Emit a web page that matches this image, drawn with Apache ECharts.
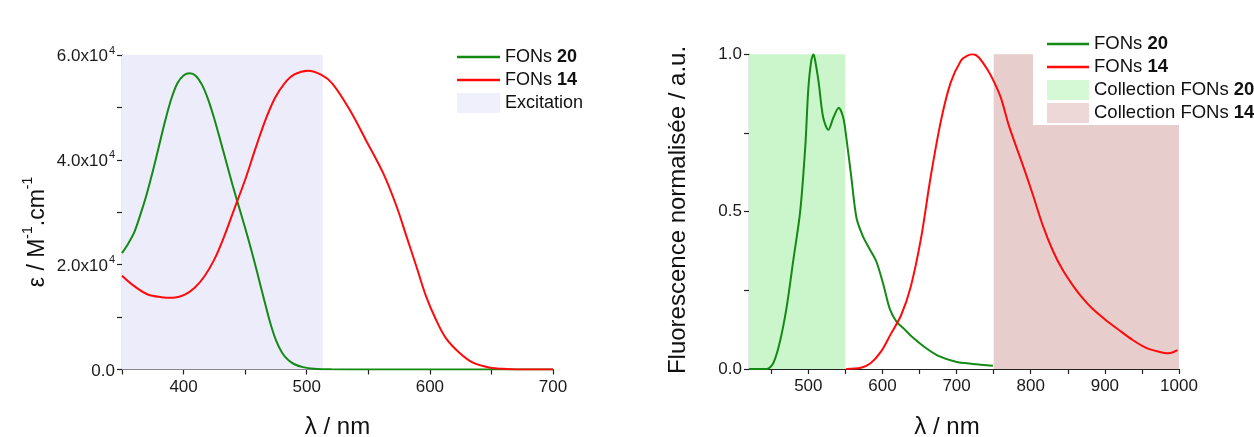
<!DOCTYPE html>
<html>
<head>
<meta charset="utf-8">
<script src="https://cdn.jsdelivr.net/npm/echarts@6/dist/echarts.min.js"></script>
<style>
html,body{margin:0;padding:0;background:#fff;}
#c{width:1254px;height:437px;}
</style>
</head>
<body>
<div id="c"></div>
<script>
// ---------- Data: absorption (left panel) ----------
const absWl20 = [350,355,360,365,370,375,380,385,390,395,400,405,410,415,420,425,430,435,440,445,450,455,460,465,470,475,480,485,490,497,506,520,550,600,700];
const absEps20 = [22200,24000,26200,29600,33400,37800,42600,47400,51600,54600,56100,56500,56000,54300,51500,47800,43600,39300,35000,31000,27000,22800,18300,13700,9200,5600,3200,1800,1000,450,150,30,0,0,0];
const absWl14 = [350,360,371,382,391,401,409,417,425,433,441,450,458,466,474,482,490,501,512,521,535,548,562,573,581,589,597,605,613,624,635,648,662,680,700];
const absEps14 = [17900,15900,14300,13800,13700,14300,15600,17800,21000,25400,30500,36200,41900,47300,51700,54600,56300,57000,56200,54500,49500,43800,37500,31100,25400,19700,13900,9500,6000,3200,1300,400,100,0,0];
const excitationRange = [350, 513];

// ---------- Data: fluorescence (right panel) ----------
const flWl20 = [420,444,453,462,471,480,489,496,500,504,507,510,514,520,527,534,541,547,551,558,565,574,583,592,601,610,619,628,641,659,677,699,722,749];
const flI20 = [0,0,0.02,0.09,0.20,0.35,0.50,0.71,0.89,0.98,1.0,0.97,0.91,0.80,0.76,0.80,0.83,0.80,0.74,0.61,0.48,0.42,0.38,0.34,0.27,0.19,0.15,0.13,0.10,0.066,0.04,0.023,0.016,0.01];
const flWl14 = [551,571,584,598,611,625,638,652,665,679,692,706,714,722,730,742,751,760,771,789,803,816,830,843,857,870,883,901,919,937,955,973,986,998];
const flI14 = [0,0.004,0.018,0.055,0.11,0.17,0.26,0.415,0.61,0.79,0.91,0.98,0.995,1.0,0.99,0.95,0.91,0.86,0.77,0.65,0.553,0.458,0.375,0.315,0.265,0.225,0.192,0.156,0.124,0.093,0.068,0.055,0.05,0.06];
const collect20Range = [420, 550];
const collect14Range = [750, 1000];

// ---------- Axis tick labels ----------
const leftXLabels = [400, 500, 600, 700];
const leftYLabels = [0, 20000, 40000, 60000];
const rightXTicks = [450,500,550,600,650,700,750,800,850,900,950,1000];
const rightXLabels = [500,600,700,800,900,1000];
const rightYLabels = [0, 0.5, 1.0];

const zip = (a, b) => a.map((v, i) => [v, b[i]]);

const FONT = 'Liberation Sans, Arial, Helvetica, sans-serif';
const GREEN = '#138a13';
const RED = '#ff0a0a';
const LAV = '#ececfb';
const LGREEN = '#cbf6cb';
const PINK = '#e8cdcd';
const AX = '#222';
const LINE_ICON = 'path://M0,0L43,0L43,2.6L0,2.6Z';

const legendRich = {
  n: {fontSize: 18, fontFamily: FONT, color: '#111'},
  b: {fontSize: 18, fontFamily: FONT, color: '#111', fontWeight: 'bold'}
};
const legendFmt = name => {
  const m = name.match(/^(.*?)(\d+)$/);
  return m ? '{n|' + m[1] + '}{b|' + m[2] + '}' : '{n|' + name + '}';
};

const commonAxis = {
  axisLine: {show: true, lineStyle: {color: AX, width: 1.2}},
  axisTick: {show: true, inside: false, length: 5, lineStyle: {color: AX, width: 1.2}},
  splitLine: {show: false},
  axisLabel: {color: '#1a1a1a', fontSize: 17, fontFamily: FONT, margin: 6}
};

const option = {
  backgroundColor: '#fff',
  animation: false,
  grid: [
    {left: 122, top: 55, width: 431, height: 314.5},
    {left: 749, top: 54.3, width: 430, height: 314.7}
  ],
  xAxis: [
    Object.assign({}, commonAxis, {
      type: 'value', gridIndex: 0, min: 350, max: 700, interval: 50,
      axisLabel: Object.assign({}, commonAxis.axisLabel, {
        margin: 9,
        formatter: v => leftXLabels.includes(v) ? String(v) : ''
      })
    }),
    Object.assign({}, commonAxis, {
      type: 'value', gridIndex: 1, min: 420, max: 1000,
      axisTick: Object.assign({}, commonAxis.axisTick, {customValues: rightXTicks}),
      axisLabel: Object.assign({}, commonAxis.axisLabel, {
        margin: 9, customValues: rightXLabels,
        formatter: v => String(v)
      })
    })
  ],
  yAxis: [
    Object.assign({}, commonAxis, {
      type: 'value', gridIndex: 0, min: 0, max: 60000, interval: 10000,
      axisLabel: Object.assign({}, commonAxis.axisLabel, {
        margin: 7,
        formatter: v => {
          if (!leftYLabels.includes(v)) return '';
          if (v === 0) return '{n|0.0}';
          return '{n|' + (v / 10000).toFixed(1) + 'x10}{s|4}';
        },
        rich: {
          n: {fontSize: 17, fontFamily: FONT, color: '#1a1a1a', lineHeight: 20, verticalAlign: 'bottom'},
          s: {fontSize: 11, fontFamily: FONT, color: '#1a1a1a', lineHeight: 20, verticalAlign: 'top', padding: [0, 0, 12, 1]}
        }
      })
    }),
    Object.assign({}, commonAxis, {
      type: 'value', gridIndex: 1, min: 0, max: 1, interval: 0.25,
      axisLabel: Object.assign({}, commonAxis.axisLabel, {
        margin: 7,
        formatter: v => rightYLabels.some(r => Math.abs(r - v) < 1e-9) ? v.toFixed(1) : ''
      })
    })
  ],
  legend: [
    {
      left: 457, top: 47, orient: 'vertical', padding: 0, itemGap: 3,
      itemWidth: 43, itemHeight: 20,
      data: [
        {name: 'FONs 20', icon: LINE_ICON, itemStyle: {color: GREEN}},
        {name: 'FONs 14', icon: LINE_ICON, itemStyle: {color: RED}},
        {name: 'Excitation', icon: 'rect', itemStyle: {color: LAV}}
      ],
      formatter: legendFmt,
      textStyle: {rich: legendRich, fontSize: 18, lineHeight: 20}
    },
    {
      left: 1033, top: 30, orient: 'vertical', padding: [4, 0, 2, 14], itemGap: 3,
      backgroundColor: '#fff',
      itemWidth: 42, itemHeight: 20,
      data: [
        {name: 'FONs 20', icon: LINE_ICON, itemStyle: {color: GREEN}},
        {name: 'FONs 14', icon: LINE_ICON, itemStyle: {color: RED}},
        {name: 'Collection FONs 20', icon: 'rect', itemStyle: {color: LGREEN}},
        {name: 'Collection FONs 14', icon: 'rect', itemStyle: {color: PINK}}
      ],
      formatter: legendFmt,
      textStyle: {rich: {
        n: {fontSize: 18.5, fontFamily: FONT, color: '#111'},
        b: {fontSize: 18.5, fontFamily: FONT, color: '#111', fontWeight: 'bold'}
      }, fontSize: 18.5, lineHeight: 20}
    }
  ],
  series: [
    {
      name: 'Excitation', type: 'scatter', xAxisIndex: 0, yAxisIndex: 0, data: [], z: 1,
      itemStyle: {color: LAV},
      markArea: {silent: true, itemStyle: {color: LAV}, data: [[{xAxis: excitationRange[0], yAxis: 0}, {xAxis: excitationRange[1], yAxis: 60000}]]}
    },
    {
      name: 'Collection FONs 20', type: 'scatter', xAxisIndex: 1, yAxisIndex: 1, data: [], z: 1,
      itemStyle: {color: LGREEN},
      markArea: {silent: true, itemStyle: {color: LGREEN}, data: [[{xAxis: collect20Range[0], yAxis: 0}, {xAxis: collect20Range[1], yAxis: 1}]]}
    },
    {
      name: 'Collection FONs 14', type: 'scatter', xAxisIndex: 1, yAxisIndex: 1, data: [], z: 1,
      itemStyle: {color: PINK},
      markArea: {silent: true, itemStyle: {color: PINK}, data: [[{xAxis: collect14Range[0], yAxis: 0}, {xAxis: collect14Range[1], yAxis: 1}]]}
    },
    {
      name: 'FONs 20', type: 'line', xAxisIndex: 0, yAxisIndex: 0, z: 3,
      data: zip(absWl20, absEps20), smooth: 0.3, symbol: 'none',
      lineStyle: {color: GREEN, width: 2}, itemStyle: {color: GREEN}
    },
    {
      name: 'FONs 14', type: 'line', xAxisIndex: 0, yAxisIndex: 0, z: 3,
      data: zip(absWl14, absEps14), smooth: 0.35, symbol: 'none',
      lineStyle: {color: RED, width: 2}, itemStyle: {color: RED}
    },
    {
      name: 'FONs 20', type: 'line', xAxisIndex: 1, yAxisIndex: 1, z: 3,
      data: zip(flWl20, flI20), smooth: 0.3, symbol: 'none',
      lineStyle: {color: GREEN, width: 2}, itemStyle: {color: GREEN}
    },
    {
      name: 'FONs 14', type: 'line', xAxisIndex: 1, yAxisIndex: 1, z: 3,
      data: zip(flWl14, flI14), smooth: 0.3, symbol: 'none',
      lineStyle: {color: RED, width: 2}, itemStyle: {color: RED}
    }
  ],
  graphic: [
    {
      type: 'text', x: 35, y: 232, rotation: Math.PI / 2,
      style: {
        text: '{a|ε / M}{s|-1}{a|.cm}{s|-1}',
        align: 'center', verticalAlign: 'middle',
        rich: {
          a: {fontSize: 23, fontFamily: FONT, fill: '#111', lineHeight: 28, verticalAlign: 'bottom'},
          s: {fontSize: 14, fontFamily: FONT, fill: '#111', lineHeight: 28, verticalAlign: 'top', padding: [0, 0, 14, 0]}
        }
      }
    },
    {
      type: 'text', x: 678, y: 210, rotation: Math.PI / 2,
      style: {
        text: 'Fluorescence normalisée / a.u.', align: 'center', verticalAlign: 'middle',
        font: '24px ' + FONT, fill: '#111'
      }
    },
    {
      type: 'text', x: 337.5, y: 427,
      style: {text: 'λ / nm', align: 'center', verticalAlign: 'middle', font: '24px ' + FONT, fill: '#111'}
    },
    {
      type: 'text', x: 947, y: 427,
      style: {text: 'λ / nm', align: 'center', verticalAlign: 'middle', font: '24px ' + FONT, fill: '#111'}
    }
  ]
};

const chart = echarts.init(document.getElementById('c'), null, {renderer: 'canvas'});
chart.setOption(option);
</script>
</body>
</html>
